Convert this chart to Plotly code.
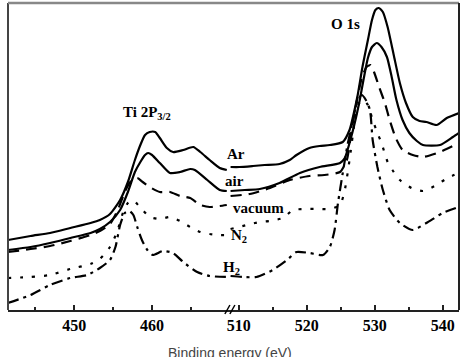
import plotly.graph_objects as go

# ---------------- data (binding energy in eV, intensity in a.u.) ----------------
# Left segment (Ti 2p region)
ar_left_eV = [441.5, 444.4, 446.9, 449.5, 452.1, 453.3, 454.6, 455.9, 456.9, 457.8, 458.5, 459.1, 459.7, 460.4, 461.0, 461.9, 462.7, 464.0, 465.3, 466.2, 467.4, 468.7, 469.6]
ar_left_int = [70, 74, 77, 82, 87, 90, 96, 110, 128, 150, 165, 175, 178, 178, 172, 162, 158, 160, 163, 158, 150, 142, 140]

air_left_eV = [441.5, 444.4, 446.9, 449.5, 452.1, 453.3, 454.6, 455.9, 456.9, 457.8, 458.5, 459.1, 459.5, 460.0, 461.0, 462.3, 463.6, 464.9, 465.5, 467.1, 468.7, 469.6]
air_left_int = [60, 63, 67, 72, 77, 81, 88, 100, 118, 138, 148, 155, 157, 155, 147, 137, 138, 141, 140, 130, 120, 119]

vac_left_eV = [441.5, 444.4, 446.9, 449.5, 452.1, 453.3, 454.6, 455.6, 456.5, 457.2, 458.1, 458.8, 459.7, 461.0, 462.3, 463.6, 464.9, 466.2, 467.4, 468.7, 469.6]
vac_left_int = [58, 61, 64, 69, 75, 79, 86, 100, 118, 128, 132, 128, 123, 118, 118, 114, 112, 105, 103, 104, 105]

n2_left_eV = [441.5, 444.4, 446.9, 449.5, 452.1, 453.3, 454.6, 455.5, 456.3, 456.9, 457.6, 458.2, 458.8, 459.7, 461.0, 462.3, 463.6, 464.9, 466.2, 467.4, 468.7, 469.6]
n2_left_int = [32, 33, 35, 41, 46, 51, 63, 78, 98, 107, 110, 105, 100, 93, 91, 93, 89, 83, 78, 76, 75, 75]

h2_left_eV = [441.5, 444.4, 446.9, 449.5, 451.7, 453.3, 454.6, 455.3, 455.9, 456.5, 457.1, 457.6, 458.1, 458.7, 459.4, 460.1, 461.4, 462.7, 464.0, 465.8, 467.4, 469.6]
h2_left_int = [7, 15, 25, 32, 35, 42, 50, 63, 85, 97, 99, 95, 83, 70, 60, 55, 59, 57, 48, 38, 34, 33]

# Right segment (O 1s region)
ar_right_eV = [508.8, 510.1, 512.1, 513.8, 516.0, 517.5, 518.5, 520.4, 521.9, 523.4, 525.3, 526.3, 526.8, 527.5, 528.2, 529.0, 529.6, 530.1, 530.6, 531.2, 531.9, 532.8, 533.7, 534.6, 535.6, 536.6, 537.6, 539.1, 540.6, 542.4]
ar_right_int = [143, 143, 144, 145, 146, 150, 155, 162, 164, 165, 168, 180, 193, 215, 243, 270, 290, 300, 302, 298, 283, 255, 227, 207, 193, 189, 188, 185, 192, 197]

air_right_eV = [508.8, 510.9, 513.1, 516.0, 519.0, 521.9, 524.9, 525.6, 526.3, 527.1, 527.8, 528.4, 529.0, 529.6, 530.3, 531.0, 531.8, 532.5, 533.2, 534.1, 535.1, 536.2, 537.1, 539.6, 541.5, 542.4]
air_right_int = [119, 120, 121, 127, 137, 143, 147, 152, 167, 188, 210, 232, 252, 263, 267, 263, 253, 233, 210, 190, 177, 169, 165, 165, 173, 177]

vac_right_eV = [508.8, 511.6, 514.6, 517.5, 520.4, 522.6, 524.9, 525.9, 526.6, 527.4, 528.1, 528.8, 529.4, 529.9, 530.7, 531.5, 532.2, 533.1, 534.1, 535.6, 537.1, 539.6, 542.4]
vac_right_int = [114, 116, 122, 130, 134, 135, 138, 150, 180, 210, 232, 243, 245, 238, 222, 207, 190, 172, 160, 155, 153, 158, 167]

n2_right_eV = [508.8, 511.2, 513.1, 514.6, 516.5, 518.0, 519.7, 521.9, 523.4, 524.9, 525.6, 526.3, 527.1, 527.8, 528.4, 529.0, 529.7, 530.4, 531.0, 531.9, 532.6, 533.7, 535.4, 537.1, 539.1, 540.7, 542.4]
n2_right_int = [81, 85, 88, 89, 92, 100, 101, 101, 101, 105, 120, 150, 190, 208, 210, 205, 190, 177, 167, 148, 140, 130, 122, 119, 125, 132, 137]

h2_right_eV = [508.8, 510.6, 512.6, 515.0, 517.1, 518.5, 520.4, 522.4, 523.4, 524.1, 524.6, 525.3, 526.0, 526.8, 527.5, 528.1, 528.7, 529.3, 529.7, 530.4, 531.2, 532.2, 533.7, 535.6, 537.6, 540.0, 542.4]
h2_right_int = [34, 33, 33, 40, 50, 58, 57, 55, 63, 80, 107, 137, 165, 190, 210, 215, 210, 200, 170, 143, 120, 100, 87, 80, 87, 97, 103]

left_ticks = [450, 460]
right_ticks = [510, 520, 530, 540]
x_title = "Binding energy (eV)"

series = [
    ("Ar", ar_left_eV, ar_left_int, ar_right_eV, ar_right_int, "solid"),
    ("air", air_left_eV, air_left_int, air_right_eV, air_right_int, "solid"),
    ("vacuum", vac_left_eV, vac_left_int, vac_right_eV, vac_right_int, "11px,7px"),
    ("N2", n2_left_eV, n2_left_int, n2_right_eV, n2_right_int, "3px,9px"),
    ("H2", h2_left_eV, h2_left_int, h2_right_eV, h2_right_int, "11px,5px,3px,5px"),
]

# ---------------- layout constants ----------------
W, H = 461, 357
ml, mr, mt, mb = 8, 2, 3, 47
split = 0.492

fig = go.Figure()
for name, lx, ly, rx, ry, dash in series:
    fig.add_trace(go.Scatter(x=lx, y=ly, mode="lines", name=name, xaxis="x", yaxis="y",
                             line=dict(color="black", width=2.2, dash=dash, shape="spline", smoothing=0.6),
                             showlegend=False))
    fig.add_trace(go.Scatter(x=rx, y=ry, mode="lines", name=name, xaxis="x2", yaxis="y",
                             line=dict(color="black", width=2.2, dash=dash, shape="spline", smoothing=0.6),
                             showlegend=False))

tickfont = dict(family="Liberation Serif", size=16, color="black", weight="bold")
common_x = dict(showgrid=False, zeroline=False, showline=True, linecolor="#222", linewidth=2,
                ticks="inside", ticklen=5, tickwidth=2, tickcolor="#222", tickfont=tickfont,
                minor=dict(ticks="inside", dtick=5, ticklen=3, tickwidth=1.5, tickcolor="#222"))

fig.update_layout(
    width=W, height=H, margin=dict(l=ml, r=mr, t=mt, b=mb),
    paper_bgcolor="white", plot_bgcolor="white",
    xaxis=dict(domain=[0, split], range=[441.5, 470], tickvals=left_ticks, anchor="y", **common_x),
    xaxis2=dict(domain=[split, 1], range=[508.7, 542.4], tickvals=right_ticks, anchor="y", **common_x),
    yaxis=dict(range=[0, 307], showticklabels=False, showgrid=False, zeroline=False, ticks="",
               showline=False),
)

labfont = dict(family="Liberation Serif", size=15, color="black", weight="bold")
annots = [
    dict(x=459.4, y=197, xref="x", yref="y", text="Ti 2P<sub>3/2</sub>"),
    dict(x=525.7, y=286, xref="x2", yref="y", text="O 1s"),
    dict(x=509.6, y=156, xref="x2", yref="y", text="Ar"),
    dict(x=509.4, y=129, xref="x2", yref="y", text="air"),
    dict(x=512.9, y=102, xref="x2", yref="y", text="vacuum"),
    dict(x=510.1, y=74, xref="x2", yref="y", text="N<sub>2</sub>"),
    dict(x=509.0, y=42, xref="x2", yref="y", text="H<sub>2</sub>"),
]
for a in annots:
    fig.add_annotation(showarrow=False, font=labfont, xanchor="center", yanchor="middle", **a)

fig.add_annotation(x=split, y=-0.108, xref="paper", yref="paper", text=x_title, showarrow=False,
                   xanchor="center", yanchor="top",
                   font=dict(family="Liberation Sans", size=14, color="#444"))

# frame (left, top, right)
pw, ph = W - ml - mr, H - mt - mb
fig.add_shape(type="line", xref="paper", yref="paper", x0=0, x1=0, y0=0, y1=1, line=dict(color="#444", width=2))
fig.add_shape(type="line", xref="paper", yref="paper", x0=0, x1=1, y0=1, y1=1, line=dict(color="#888", width=2.5))
fig.add_shape(type="line", xref="paper", yref="paper", x0=1, x1=1, y0=0, y1=1, line=dict(color="#222", width=2))
# axis break marks "//"
for off in (-3, 2):
    fig.add_shape(type="line", xref="paper", yref="paper",
                  x0=split + (off - 2) / pw, x1=split + (off + 3) / pw,
                  y0=-4 / ph, y1=5 / ph, line=dict(color="black", width=1.5))

fig.write_html("out.html")
